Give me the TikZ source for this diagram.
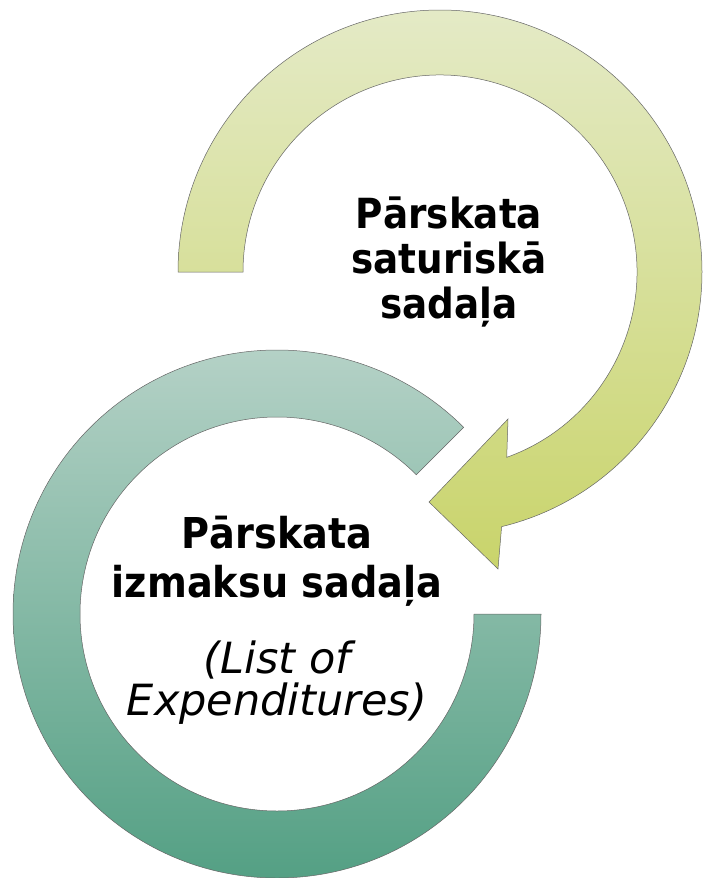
\documentclass[tikz,border=0pt]{standalone}
\usepackage{fontspec}
\setmainfont{DejaVu Sans Condensed}
\newfontfamily\widefont{DejaVu Sans}
\usepackage{tikz}
\usetikzlibrary{calc}

\definecolor{limetop}{HTML}{E4EAC6}
\definecolor{limebot}{HTML}{C9D46B}
\definecolor{tealtop}{HTML}{B4D1C6}
\definecolor{tealbot}{HTML}{54A084}
\setlength{\lineskiplimit}{-20pt}

\tikzset{
	band/.style = {draw=black!60, line width=0.5pt},
	lbl/.style = {inner sep=0pt, align=center, text=black}
}

\begin{document}
\begin{tikzpicture}[x=1pt, y=-1pt]
	\useasboundingbox (0,0) rectangle (702,878);

	\coordinate (yc) at (440,272);
	\coordinate (tc) at (277,614);

	% bottom ring
	\draw[band, top color=tealtop, bottom color=tealbot]
		($(tc)+(0:264)$) arc[start angle=0, end angle=315, radius=264]
		-- ($(tc)+(315:197)$) arc[start angle=315, end angle=0, radius=197] -- cycle;

	% top ring with head
	\draw[band, top color=limetop, bottom color=limebot]
		($(yc)+(180:262)$) arc[start angle=180, end angle=436.4, radius=262]
		-- (498,569) -- (429,502) -- (508,419)
		-- ($(yc)+(70.2:197)$) arc[start angle=430.2, end angle=180, radius=197] -- cycle;

	\node[lbl, font=\fontsize{41.5}{45}\selectfont\bfseries] (saturs) at (449,262)
		{Pārskata\\saturiskā\\sadaļa};
	\node[lbl, font=\fontsize{42.5}{49}\selectfont\bfseries] (izmaksas) at (277,561)
		{Pārskata\\izmaksu sadaļa};
	\node[lbl, font=\widefont\fontsize{43}{42}\selectfont\itshape] (loe) at (277,683)
		{(List of\\Expenditures)};
	%	\draw[red] (0,0) grid[step=50] (702,878);
\end{tikzpicture}
\end{document}
